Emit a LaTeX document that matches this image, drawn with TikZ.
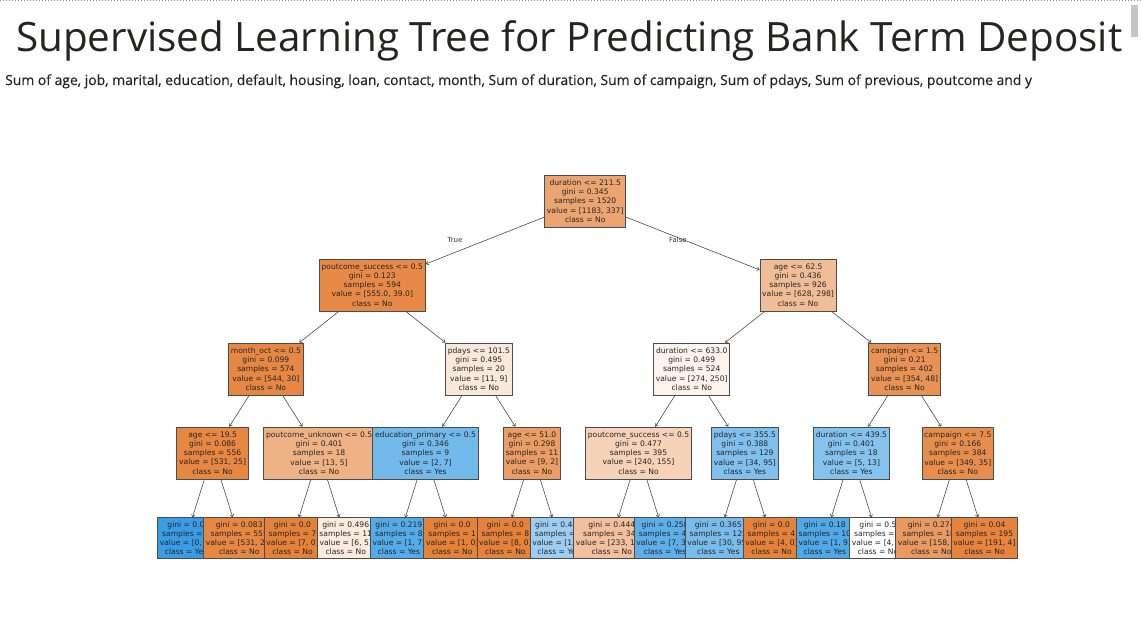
\documentclass[tikz,border=0pt]{standalone}
\usepackage{fontspec}
\usepackage{xcolor}
\usetikzlibrary{arrows.meta}
\newfontfamily\titlefont{Open Sans}
\newfontfamily\subfont[FakeBold=0.4]{Open Sans}
\newfontfamily\treefont{DejaVu Sans}
% kleuren van de knopen
\definecolor{kn0}{RGB}{236,165,113}
\definecolor{kn1}{RGB}{231,138,71}
\definecolor{kn2}{RGB}{241,189,151}
\definecolor{kn3}{RGB}{230,136,68}
\definecolor{kn4}{RGB}{250,232,219}
\definecolor{kn5}{RGB}{253,244,238}
\definecolor{kn6}{RGB}{232,146,84}
\definecolor{kn7}{RGB}{230,135,66}
\definecolor{kn8}{RGB}{239,178,133}
\definecolor{kn9}{RGB}{114,185,236}
\definecolor{kn10}{RGB}{235,157,101}
\definecolor{kn11}{RGB}{246,210,185}
\definecolor{kn12}{RGB}{128,192,238}
\definecolor{kn13}{RGB}{133,195,239}
\definecolor{kn14}{RGB}{232,142,77}
\definecolor{oranje}{RGB}{229,129,57}
\definecolor{blauw}{RGB}{57,157,229}
\definecolor{bl2}{RGB}{230,135,66}
\definecolor{bl4}{RGB}{251,234,222}
\definecolor{bl5}{RGB}{85,171,233}
\definecolor{bl8}{RGB}{156,206,242}
\definecolor{bl9}{RGB}{242,192,156}
\definecolor{bl10}{RGB}{93,175,234}
\definecolor{bl11}{RGB}{120,188,237}
\definecolor{bl13}{RGB}{79,168,232}
\definecolor{bl15}{RGB}{234,154,96}
\definecolor{bl16}{RGB}{230,132,61}
\definecolor{titeltekst}{RGB}{37,36,35}

\begin{document}
\begin{tikzpicture}[x=1pt, y=-1pt,
    box/.style={draw=black!70, line width=0.8pt, align=center, inner xsep=2.3pt,
      font=\treefont\fontsize{7.6}{9.2}\selectfont, text=black!85},
    split/.style={box, minimum height=52pt},
    leaf/.style={box, minimum height=40.6pt},
    edge/.style={draw=black!70, line width=0.6pt, -{To[length=3pt,width=4pt]}},
    tflabel/.style={font=\treefont\fontsize{7}{8}\selectfont, text=black!80, inner sep=0pt}]
    \useasboundingbox (0,0) rectangle (1141,641);
    % rand en schuifbalk
    \draw[black!45, dotted, line width=1pt] (0,0.5) -- (1141,0.5);
    \fill[black!22] (1131,5) rectangle (1138,37);
    % titels
    \node[anchor=base west, inner sep=0pt, text=titeltekst, font=\titlefont\fontsize{40.4}{48}\selectfont] (titel) at (16,51) {Supervised Learning Tree for Predicting Bank Term Deposit};
    \node[anchor=base west, inner sep=0pt, text=titeltekst, font=\subfont\fontsize{13.9}{16}\selectfont] (sub) at (5,85) {Sum of age, job, marital, education, default, housing, loan, contact, month, Sum of duration, Sum of campaign, Sum of pdays, Sum of previous, poutcome and y};
    % wortel en eerste splitsingen
    \node[split, fill=kn0] (n0) at (585.2,201) {duration <= 211.5\\gini = 0.345\\samples = 1520\\value = [1183, 337]\\class = No};
    \node[split, fill=kn1] (n1) at (372.3,285) {poutcome\_success <= 0.5\\gini = 0.123\\samples = 594\\value = [555.0, 39.0]\\class = No};
    \node[split, fill=kn2] (n2) at (798.1,285) {age <= 62.5\\gini = 0.436\\samples = 926\\value = [628, 298]\\class = No};
    % niveau 2
    \node[split, fill=kn3] (n3) at (265.9,369) {month\_oct <= 0.5\\gini = 0.099\\samples = 574\\value = [544, 30]\\class = No};
    \node[split, fill=kn4] (n4) at (478.8,369) {pdays <= 101.5\\gini = 0.495\\samples = 20\\value = [11, 9]\\class = No};
    \node[split, fill=kn5] (n5) at (691.7,369) {duration <= 633.0\\gini = 0.499\\samples = 524\\value = [274, 250]\\class = No};
    \node[split, fill=kn6] (n6) at (904.6,369) {campaign <= 1.5\\gini = 0.21\\samples = 402\\value = [354, 48]\\class = No};
    % niveau 3
    \node[split, fill=kn7] (n7) at (212.6,453) {age <= 19.5\\gini = 0.086\\samples = 556\\value = [531, 25]\\class = No};
    \node[split, fill=kn8] (n8) at (319.1,453) {poutcome\_unknown <= 0.5\\gini = 0.401\\samples = 18\\value = [13, 5]\\class = No};
    \node[split, fill=kn9] (n9) at (425.5,453) {education\_primary <= 0.5\\gini = 0.346\\samples = 9\\value = [2, 7]\\class = Yes};
    \node[split, fill=kn10] (n10) at (532.0,453) {age <= 51.0\\gini = 0.298\\samples = 11\\value = [9, 2]\\class = No};
    \node[split, fill=kn11] (n11) at (638.5,453) {poutcome\_success <= 0.5\\gini = 0.477\\samples = 395\\value = [240, 155]\\class = No};
    \node[split, fill=kn12] (n12) at (744.9,453) {pdays <= 355.5\\gini = 0.388\\samples = 129\\value = [34, 95]\\class = Yes};
    \node[split, fill=kn13] (n13) at (851.4,453) {duration <= 439.5\\gini = 0.401\\samples = 18\\value = [5, 13]\\class = Yes};
    \node[split, fill=kn14] (n14) at (957.8,453) {campaign <= 7.5\\gini = 0.166\\samples = 384\\value = [349, 35]\\class = No};
    % bladeren (overlappen elkaar)
    \node[leaf, fill=blauw] (l1) at (186.0,538) {gini = 0.0\\samples = 1\\value = [0, 1]\\class = Yes};
    \node[leaf, fill=bl2] (l2) at (239.2,538) {gini = 0.083\\samples = 555\\value = [531, 24]\\class = No};
    \node[leaf, fill=oranje] (l3) at (292.5,538) {gini = 0.0\\samples = 7\\value = [7, 0]\\class = No};
    \node[leaf, fill=bl4] (l4) at (345.7,538) {gini = 0.496\\samples = 11\\value = [6, 5]\\class = No};
    \node[leaf, fill=bl5] (l5) at (398.9,538) {gini = 0.219\\samples = 8\\value = [1, 7]\\class = Yes};
    \node[leaf, fill=oranje] (l6) at (452.2,538) {gini = 0.0\\samples = 1\\value = [1, 0]\\class = No};
    \node[leaf, fill=oranje] (l7) at (505.4,538) {gini = 0.0\\samples = 8\\value = [8, 0]\\class = No};
    \node[leaf, fill=bl8] (l8) at (558.6,538) {gini = 0.444\\samples = 3\\value = [1, 2]\\class = Yes};
    \node[leaf, fill=bl9] (l9) at (611.8,538) {gini = 0.444\\samples = 349\\value = [233, 116]\\class = No};
    \node[leaf, fill=bl10] (l10) at (665.1,538) {gini = 0.258\\samples = 46\\value = [7, 39]\\class = Yes};
    \node[leaf, fill=bl11] (l11) at (718.3,538) {gini = 0.365\\samples = 125\\value = [30, 95]\\class = Yes};
    \node[leaf, fill=oranje] (l12) at (771.5,538) {gini = 0.0\\samples = 4\\value = [4, 0]\\class = No};
    \node[leaf, fill=bl13] (l13) at (824.8,538) {gini = 0.18\\samples = 10\\value = [1, 9]\\class = Yes};
    \node[leaf, fill=white] (l14) at (878.0,538) {gini = 0.5\\samples = 8\\value = [4, 4]\\class = No};
    \node[leaf, fill=bl15] (l15) at (931.2,538) {gini = 0.274\\samples = 189\\value = [158, 31]\\class = No};
    \node[leaf, fill=bl16] (l16) at (984.5,538) {gini = 0.04\\samples = 195\\value = [191, 4]\\class = No};
    % verbindingen
    \foreach \p/\c in {n0/n1, n0/n2, n1/n3, n1/n4, n2/n5, n2/n6,
        n3/n7, n3/n8, n4/n9, n4/n10, n5/n11, n5/n12, n6/n13, n6/n14,
        n7/l1, n7/l2, n8/l3, n8/l4, n9/l5, n9/l6, n10/l7, n10/l8,
        n11/l9, n11/l10, n12/l11, n12/l12, n13/l13, n13/l14, n14/l15, n14/l16}
      \draw[edge] (\p) -- (\c);
    % True / False
    \node[tflabel] (waar) at (455,240) {True};
    \node[tflabel] (onwaar) at (678,240) {False};
\end{tikzpicture}
\end{document}
